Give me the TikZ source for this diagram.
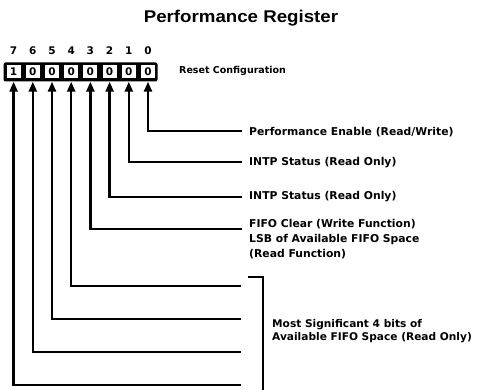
\documentclass[tikz,border=0pt]{standalone}
\usepackage{fontspec}
\setmainfont{Liberation Sans}
\newfontfamily\plotfont{DejaVu Sans}
\usetikzlibrary{arrows.meta}
\begin{document}
\begin{tikzpicture}[x=1pt,y=-1pt,
  cell/.style={draw=none,fill=white,minimum width=14pt,minimum height=13pt,inner sep=0pt,font=\plotfont\bfseries\fontsize{10.5}{11}\selectfont},
  bitlbl/.style={inner sep=0pt,font=\plotfont\bfseries\fontsize{10.5}{11}\selectfont},
  lbl/.style={anchor=west,inner sep=0pt,align=left,font=\plotfont\bfseries\fontsize{10.8}{15}\selectfont},
  conn/.style={line width=2.5pt,{Triangle[length=10pt,width=8pt]}-},
  hline/.style={line width=2.3pt}
]
\useasboundingbox (0,0) rectangle (480,390);
\node[inner sep=0pt,font=\bfseries\fontsize{17}{19}\selectfont] (title) at (241,18) {\scalebox{1.1}[1]{Performance Register}};
\node[fill=black,rounded corners=2pt,minimum width=154pt,minimum height=19pt,inner sep=0pt] (reg) at (80.5,72) {};
\foreach \k/\v [evaluate=\k as \xx using {148-19.2*\k}] in {0/0,1/0,2/0,3/0,4/0,5/0,6/0,7/1}{
  \node[cell] (c\k) at (\xx,72) {\v};
  \node[bitlbl] (b\k) at (\xx,51) {\k};
}
\node[lbl,font=\plotfont\bfseries\fontsize{9.5}{11}\selectfont] (reset) at (179,71) {Reset Configuration};
\node[lbl] (t0) at (249,132) {Performance Enable (Read/Write)};
\node[lbl] (t1) at (249,163) {INTP Status (Read Only)};
\node[lbl] (t2) at (249,197) {INTP Status (Read Only)};
\node[lbl] (t3) at (249,239) {FIFO Clear (Write Function)\\LSB of Available FIFO Space\\(Read Function)};
\node[lbl,font=\plotfont\bfseries\fontsize{10.6}{13}\selectfont] (t4) at (272,331) {Most Significant 4 bits of\\Available FIFO Space (Read Only)};
\coordinate (e0) at (242,131);
\coordinate (e1) at (242,162);
\coordinate (e2) at (242,197);
\coordinate (e3) at (242,229);
\coordinate (e4) at (241,286);
\coordinate (e5) at (241,319);
\coordinate (e6) at (241,352);
\coordinate (e7) at (241,385);
\foreach \k in {0,...,7}{
  \draw[conn] (c\k |- reg.south) |- (e\k);
}
\coordinate (h1) at (248,277);
\coordinate (h2) at (263,277);
\coordinate (h3) at (263,390);
\draw[hline] (h1) -- (h2) -- (h3);
\end{tikzpicture}
\end{document}
